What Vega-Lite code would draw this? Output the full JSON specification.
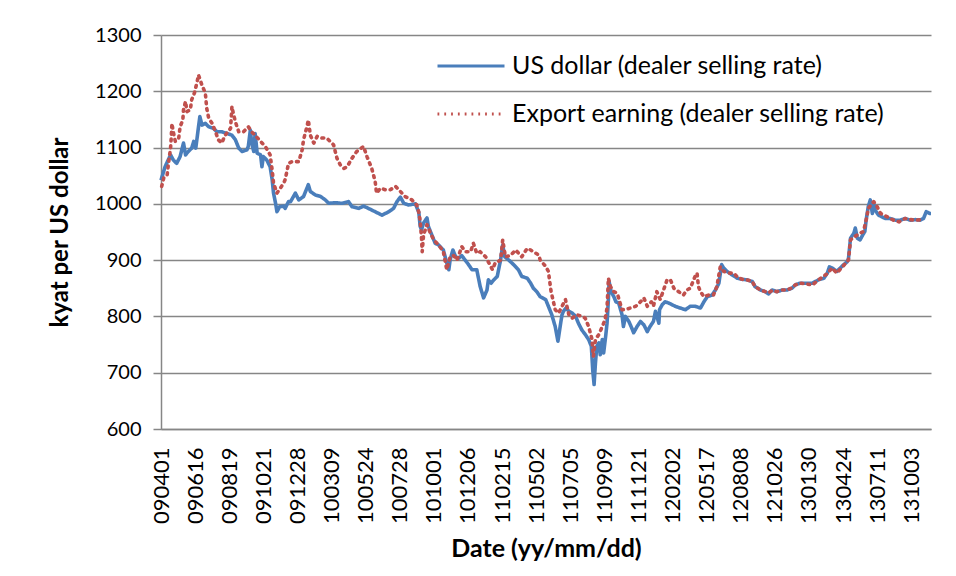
{
"$schema": "https://vega.github.io/schema/vega-lite/v6.json",
"width": 770, "height": 394,
"autosize": "none",
"padding": {"left": 161, "top": 35, "right": 25, "bottom": 147},
"background": "white",
"config": {"view": {"stroke": null}, "font": "Lato"},
"datasets": {
"usd": [{"i":0,"v":1042},{"i":6,"v":1066},{"i":14,"v":1087},{"i":18,"v":1078},{"i":23,"v":1072},{"i":28,"v":1084},{"i":33,"v":1108},{"i":36,"v":1087},{"i":40,"v":1093},{"i":45,"v":1099},{"i":48,"v":1111},{"i":51,"v":1099},{"i":55,"v":1137},{"i":57,"v":1155},{"i":60,"v":1140},{"i":65,"v":1143},{"i":70,"v":1137},{"i":77,"v":1134},{"i":82,"v":1128},{"i":89,"v":1128},{"i":97,"v":1125},{"i":104,"v":1122},{"i":109,"v":1114},{"i":114,"v":1099},{"i":119,"v":1093},{"i":126,"v":1096},{"i":128,"v":1102},{"i":131,"v":1131},{"i":133,"v":1108},{"i":136,"v":1093},{"i":138,"v":1125},{"i":141,"v":1090},{"i":146,"v":1087},{"i":148,"v":1066},{"i":150,"v":1084},{"i":155,"v":1078},{"i":160,"v":1066},{"i":163,"v":1043},{"i":165,"v":1019},{"i":168,"v":1001},{"i":170,"v":986},{"i":174,"v":995},{"i":180,"v":996},{"i":182,"v":992},{"i":187,"v":1004},{"i":190,"v":1004},{"i":197,"v":1019},{"i":202,"v":1007},{"i":209,"v":1013},{"i":216,"v":1034},{"i":219,"v":1022},{"i":226,"v":1016},{"i":234,"v":1013},{"i":241,"v":1007},{"i":246,"v":1001},{"i":256,"v":1002},{"i":265,"v":1001},{"i":275,"v":1004},{"i":280,"v":995},{"i":290,"v":992},{"i":297,"v":996},{"i":304,"v":992},{"i":314,"v":986},{"i":324,"v":980},{"i":334,"v":986},{"i":341,"v":992},{"i":346,"v":1004},{"i":351,"v":1012},{"i":356,"v":1001},{"i":363,"v":998},{"i":373,"v":1000},{"i":378,"v":985},{"i":380,"v":960},{"i":382,"v":954},{"i":385,"v":966},{"i":390,"v":975},{"i":392,"v":960},{"i":397,"v":945},{"i":402,"v":930},{"i":407,"v":927},{"i":414,"v":918},{"i":419,"v":895},{"i":422,"v":883},{"i":424,"v":901},{"i":428,"v":918},{"i":432,"v":906},{"i":436,"v":903},{"i":441,"v":908},{"i":446,"v":900},{"i":451,"v":892},{"i":456,"v":883},{"i":463,"v":883},{"i":468,"v":853},{"i":473,"v":833},{"i":478,"v":847},{"i":480,"v":865},{"i":484,"v":859},{"i":488,"v":865},{"i":493,"v":871},{"i":498,"v":901},{"i":501,"v":927},{"i":504,"v":906},{"i":510,"v":900},{"i":517,"v":892},{"i":524,"v":883},{"i":529,"v":871},{"i":537,"v":868},{"i":542,"v":859},{"i":546,"v":850},{"i":551,"v":844},{"i":556,"v":835},{"i":564,"v":830},{"i":568,"v":818},{"i":573,"v":803},{"i":578,"v":782},{"i":582,"v":756},{"i":586,"v":788},{"i":588,"v":803},{"i":590,"v":809},{"i":594,"v":815},{"i":598,"v":809},{"i":603,"v":806},{"i":608,"v":800},{"i":612,"v":788},{"i":617,"v":776},{"i":622,"v":768},{"i":627,"v":759},{"i":631,"v":747},{"i":633,"v":705},{"i":635,"v":679},{"i":637,"v":717},{"i":639,"v":747},{"i":642,"v":753},{"i":644,"v":732},{"i":647,"v":759},{"i":649,"v":735},{"i":652,"v":765},{"i":654,"v":788},{"i":656,"v":830},{"i":657,"v":862},{"i":660,"v":844},{"i":664,"v":835},{"i":667,"v":826},{"i":671,"v":824},{"i":676,"v":803},{"i":678,"v":782},{"i":681,"v":800},{"i":686,"v":791},{"i":690,"v":780},{"i":693,"v":771},{"i":698,"v":782},{"i":703,"v":791},{"i":708,"v":785},{"i":713,"v":773},{"i":717,"v":782},{"i":722,"v":791},{"i":725,"v":809},{"i":730,"v":788},{"i":731,"v":812},{"i":735,"v":821},{"i":739,"v":826},{"i":744,"v":824},{"i":749,"v":821},{"i":754,"v":818},{"i":761,"v":815},{"i":769,"v":812},{"i":776,"v":818},{"i":783,"v":818},{"i":791,"v":815},{"i":796,"v":826},{"i":801,"v":835},{"i":808,"v":838},{"i":813,"v":847},{"i":818,"v":859},{"i":822,"v":892},{"i":825,"v":886},{"i":830,"v":880},{"i":837,"v":874},{"i":845,"v":868},{"i":852,"v":866},{"i":859,"v":865},{"i":867,"v":862},{"i":871,"v":853},{"i":879,"v":847},{"i":886,"v":844},{"i":891,"v":840},{"i":896,"v":847},{"i":903,"v":844},{"i":911,"v":847},{"i":918,"v":847},{"i":925,"v":850},{"i":930,"v":856},{"i":937,"v":859},{"i":945,"v":859},{"i":955,"v":859},{"i":964,"v":865},{"i":972,"v":868},{"i":977,"v":877},{"i":980,"v":888},{"i":984,"v":886},{"i":991,"v":880},{"i":996,"v":886},{"i":1001,"v":892},{"i":1006,"v":897},{"i":1008,"v":903},{"i":1011,"v":939},{"i":1016,"v":948},{"i":1018,"v":957},{"i":1021,"v":939},{"i":1025,"v":936},{"i":1029,"v":945},{"i":1032,"v":951},{"i":1034,"v":972},{"i":1037,"v":995},{"i":1040,"v":1007},{"i":1043,"v":983},{"i":1045,"v":1001},{"i":1047,"v":989},{"i":1052,"v":980},{"i":1057,"v":977},{"i":1062,"v":974},{"i":1069,"v":974},{"i":1077,"v":971},{"i":1084,"v":971},{"i":1091,"v":974},{"i":1099,"v":971},{"i":1106,"v":972},{"i":1113,"v":971},{"i":1118,"v":974},{"i":1122,"v":986},{"i":1127,"v":983},{"i":1129,"v":983}],
"exp": [{"i":1,"v":1031},{"i":4,"v":1046},{"i":9,"v":1051},{"i":11,"v":1072},{"i":14,"v":1099},{"i":15,"v":1117},{"i":16,"v":1143},{"i":18,"v":1128},{"i":21,"v":1111},{"i":26,"v":1117},{"i":28,"v":1137},{"i":32,"v":1149},{"i":33,"v":1167},{"i":36,"v":1182},{"i":38,"v":1164},{"i":43,"v":1167},{"i":45,"v":1185},{"i":49,"v":1197},{"i":53,"v":1217},{"i":55,"v":1229},{"i":60,"v":1211},{"i":65,"v":1197},{"i":67,"v":1170},{"i":70,"v":1152},{"i":75,"v":1143},{"i":80,"v":1128},{"i":84,"v":1114},{"i":89,"v":1108},{"i":94,"v":1122},{"i":102,"v":1134},{"i":104,"v":1173},{"i":106,"v":1161},{"i":109,"v":1146},{"i":114,"v":1128},{"i":121,"v":1128},{"i":128,"v":1137},{"i":133,"v":1128},{"i":138,"v":1122},{"i":146,"v":1111},{"i":153,"v":1102},{"i":160,"v":1087},{"i":163,"v":1060},{"i":165,"v":1037},{"i":170,"v":1019},{"i":175,"v":1028},{"i":180,"v":1037},{"i":182,"v":1043},{"i":185,"v":1060},{"i":187,"v":1072},{"i":192,"v":1075},{"i":202,"v":1075},{"i":207,"v":1096},{"i":209,"v":1114},{"i":214,"v":1137},{"i":216,"v":1149},{"i":219,"v":1122},{"i":224,"v":1108},{"i":229,"v":1120},{"i":236,"v":1117},{"i":243,"v":1117},{"i":253,"v":1105},{"i":258,"v":1081},{"i":263,"v":1069},{"i":268,"v":1063},{"i":273,"v":1066},{"i":280,"v":1081},{"i":287,"v":1093},{"i":297,"v":1102},{"i":302,"v":1084},{"i":309,"v":1063},{"i":314,"v":1040},{"i":316,"v":1019},{"i":322,"v":1028},{"i":329,"v":1025},{"i":336,"v":1025},{"i":344,"v":1031},{"i":351,"v":1022},{"i":358,"v":1013},{"i":368,"v":1007},{"i":375,"v":998},{"i":378,"v":985},{"i":380,"v":970},{"i":382,"v":939},{"i":383,"v":915},{"i":385,"v":945},{"i":390,"v":963},{"i":395,"v":948},{"i":400,"v":936},{"i":407,"v":927},{"i":414,"v":915},{"i":419,"v":883},{"i":424,"v":906},{"i":429,"v":908},{"i":434,"v":900},{"i":441,"v":924},{"i":446,"v":915},{"i":454,"v":915},{"i":458,"v":930},{"i":463,"v":912},{"i":468,"v":915},{"i":476,"v":906},{"i":486,"v":883},{"i":490,"v":895},{"i":498,"v":900},{"i":501,"v":936},{"i":505,"v":906},{"i":512,"v":908},{"i":520,"v":918},{"i":529,"v":906},{"i":537,"v":921},{"i":542,"v":918},{"i":546,"v":915},{"i":554,"v":909},{"i":556,"v":900},{"i":564,"v":889},{"i":568,"v":880},{"i":572,"v":844},{"i":578,"v":812},{"i":583,"v":806},{"i":588,"v":818},{"i":593,"v":830},{"i":598,"v":803},{"i":603,"v":797},{"i":610,"v":803},{"i":617,"v":800},{"i":622,"v":797},{"i":627,"v":782},{"i":632,"v":759},{"i":634,"v":729},{"i":637,"v":759},{"i":642,"v":768},{"i":647,"v":782},{"i":651,"v":794},{"i":654,"v":815},{"i":656,"v":868},{"i":659,"v":853},{"i":664,"v":844},{"i":669,"v":841},{"i":676,"v":812},{"i":681,"v":812},{"i":688,"v":815},{"i":696,"v":818},{"i":703,"v":826},{"i":708,"v":833},{"i":713,"v":818},{"i":719,"v":826},{"i":722,"v":818},{"i":727,"v":844},{"i":732,"v":830},{"i":742,"v":865},{"i":747,"v":865},{"i":752,"v":850},{"i":759,"v":844},{"i":766,"v":838},{"i":771,"v":847},{"i":776,"v":850},{"i":783,"v":871},{"i":786,"v":877},{"i":788,"v":853},{"i":791,"v":844},{"i":796,"v":835},{"i":803,"v":838},{"i":810,"v":838},{"i":815,"v":853},{"i":820,"v":888},{"i":825,"v":880},{"i":832,"v":877},{"i":840,"v":877},{"i":845,"v":870},{"i":852,"v":866},{"i":859,"v":865},{"i":867,"v":862},{"i":871,"v":853},{"i":879,"v":847},{"i":886,"v":844},{"i":891,"v":842},{"i":896,"v":846},{"i":903,"v":844},{"i":911,"v":847},{"i":918,"v":847},{"i":925,"v":851},{"i":930,"v":856},{"i":937,"v":859},{"i":945,"v":858},{"i":955,"v":856},{"i":964,"v":865},{"i":977,"v":876},{"i":984,"v":886},{"i":991,"v":877},{"i":999,"v":888},{"i":1008,"v":900},{"i":1011,"v":936},{"i":1016,"v":941},{"i":1025,"v":948},{"i":1030,"v":951},{"i":1035,"v":977},{"i":1037,"v":992},{"i":1045,"v":1004},{"i":1050,"v":995},{"i":1055,"v":983},{"i":1065,"v":977},{"i":1074,"v":971},{"i":1082,"v":968},{"i":1091,"v":974},{"i":1099,"v":972},{"i":1106,"v":971},{"i":1116,"v":972}]
},
"encoding": {
  "x": {"field": "i", "type": "quantitative",
   "scale": {"domain": [0, 1129], "nice": false, "zero": false},
   "axis": {"values": [0,50,100,150,200,250,300,350,400,450,500,550,600,650,700,750,800,850,900,950,1000,1050,1100],
    "labelExpr": "['090401','090616','090819','091021','091228','100309','100524','100728','101001','101206','110215','110502','110705','110909','111121','120202','120517','120808','121026','130130','130424','130711','131003'][round(datum.value/50)]",
    "labelAngle": -90, "labelAlign": "right", "labelBaseline": "middle", "ticks": false, "grid": false,
    "domainColor": "#868686", "domainWidth": 1.5, "labelFontSize": 22, "labelColor": "black", "labelPadding": 18, "labelFlush": false, "labelOverlap": false, "labelBound": false,
    "title": "Date (yy/mm/dd)", "titleFontSize": 25, "titleFontWeight": "bold", "titleColor": "black", "titlePadding": 13}},
  "y": {"field": "v", "type": "quantitative",
   "scale": {"domain": [600, 1300], "nice": false, "zero": false},
   "axis": {"values": [600,700,800,900,1000,1100,1200,1300], "format": "d", "grid": true, "gridColor": "#868686", "gridWidth": 1.5,
    "tickColor": "#868686", "tickSize": 8, "tickWidth": 1.5, "domainColor": "#868686", "domainWidth": 1.5,
    "labelFontSize": 20, "labelColor": "black", "labelPadding": 12,
    "title": "kyat per US dollar", "titleFontSize": 24, "titleFontWeight": "bold", "titleColor": "black", "titlePadding": 22}}
},
"layer": [
{"data": {"name": "usd"},
 "mark": {"type": "line", "strokeWidth": 3.6, "strokeJoin": "round"},
 "encoding": {
  "color": {"datum": "US dollar (dealer selling rate)", "type": "nominal",
   "scale": {"domain": ["US dollar (dealer selling rate)", "Export earning (dealer selling rate)"], "range": ["#4A7EBB", "#C0504D"]},
   "legend": {"orient": "none", "legendX": 275, "legendY": -4, "title": null, "symbolType": "stroke", "symbolSize": 4489, "symbolStrokeWidth": 3, "labelFontSize": 25, "labelColor": "black", "labelOffset": 6, "labelLimit": 0, "rowPadding": -16, "padding": 0}},
  "strokeDash": {"datum": "US dollar (dealer selling rate)", "type": "nominal",
   "scale": {"domain": ["US dollar (dealer selling rate)", "Export earning (dealer selling rate)"], "range": [[1, 0], [1.8, 5]]}}
 }},
{"data": {"name": "exp"},
 "mark": {"type": "line", "strokeWidth": 3.6, "strokeCap": "round", "strokeJoin": "round"},
 "encoding": {
  "color": {"datum": "Export earning (dealer selling rate)", "type": "nominal"},
  "strokeDash": {"datum": "Export earning (dealer selling rate)", "type": "nominal"}
 }}
]
}
